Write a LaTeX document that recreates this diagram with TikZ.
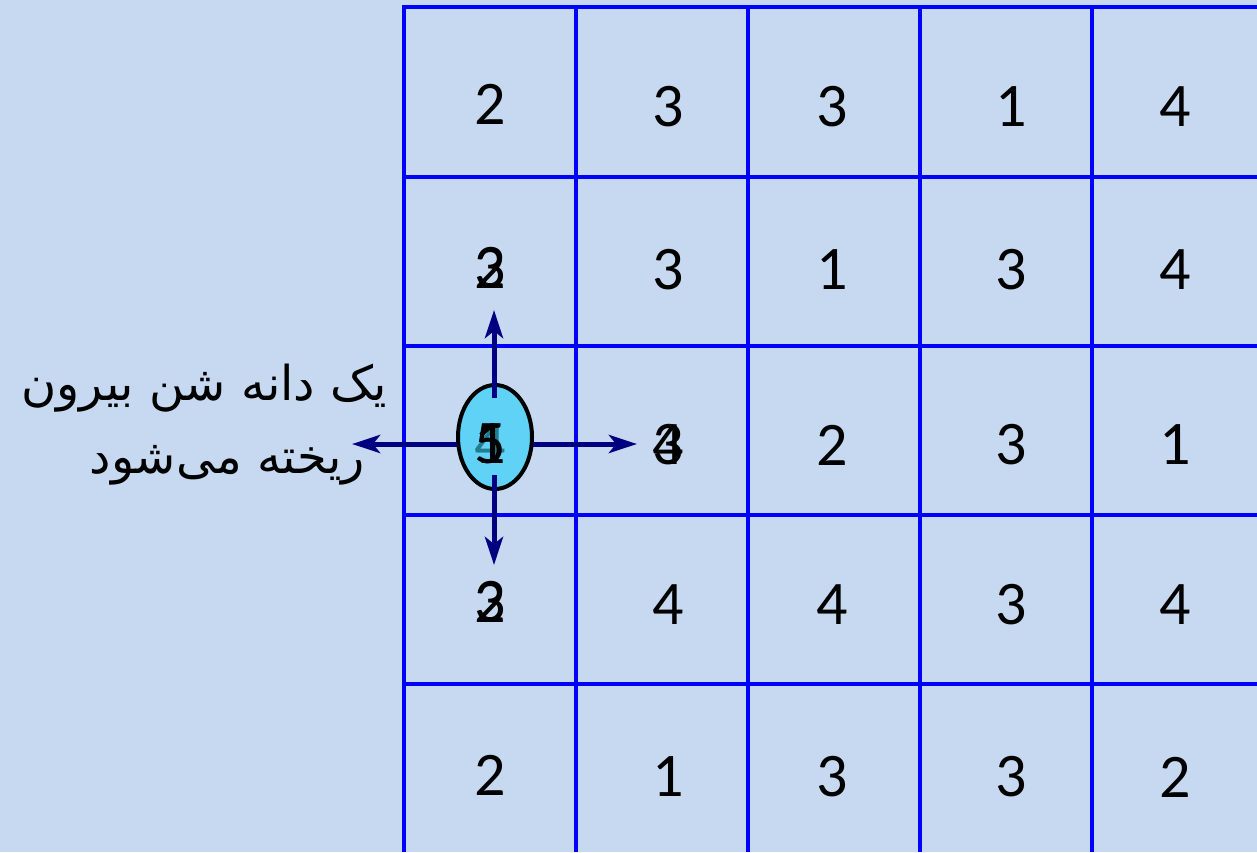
\documentclass[tikz,border=0pt]{standalone}
\usepackage{fontspec}
\newfontfamily\digitfont{Carlito}
\newfontfamily\persianfont[Script=Arabic]{DejaVu Sans}
\TeXXeTstate=1
\usetikzlibrary{arrows.meta, shapes.geometric}
\definecolor{bgblue}{RGB}{198,217,240}
\definecolor{gridblue}{RGB}{0,0,255}
\definecolor{arrownavy}{RGB}{0,0,128}
\definecolor{graincyan}{RGB}{95,210,245}
\definecolor{grainteal}{RGB}{35,125,145}
\tikzset{
  gridline/.style = {draw=gridblue, line width=3.5pt},
  digit/.style = {inner sep=0pt, text=black, font=\digitfont\fontsize{62}{62}\selectfont},
  grain/.style = {
    ellipse, draw=black, line width=4pt, fill=graincyan,
    minimum width=74pt, minimum height=104pt, inner sep=0pt
  },
  note/.style = {inner sep=0pt, anchor=base east, font=\persianfont\fontsize{48}{56}\selectfont},
  myarrow/.style = {-{Stealth[length=28pt, width=18pt, inset=7pt]}, draw=arrownavy, line width=5pt}
}

\begin{document}
\begin{tikzpicture}[x=1pt, y=-1pt]
  \path[use as bounding box, fill=bgblue] (0,0) rectangle (1257,852);

  % Grid
  \draw[gridline] (1257,7) -- (404,7) -- (404,852);
  \draw[gridline] (576,7) -- (576,852);
  \draw[gridline] (748,7) -- (748,852);
  \draw[gridline] (920,7) -- (920,852);
  \draw[gridline] (1092,7) -- (1092,852);
  \draw[gridline] (404,177) -- (1257,177);
  \draw[gridline] (404,346) -- (1257,346);
  \draw[gridline] (404,515) -- (1257,515);
  \draw[gridline] (404,684) -- (1257,684);

  % Sand counts
  \node[digit] (a1) at (490,104) {2};
  \node[digit] (a2) at (668,107) {3};
  \node[digit] (a3) at (832,107) {3};
  \node[digit] (a4) at (1011,107) {1};
  \node[digit] (a5) at (1175,107) {4};

  \node[digit] (b1old) at (490,268) {2};
  \node[digit] (b1) at (490,268) {3};
  \node[digit] (b2) at (668,270) {3};
  \node[digit] (b3) at (832,270) {1};
  \node[digit] (b4) at (1011,270) {3};
  \node[digit] (b5) at (1175,270) {4};

  \node[digit] (c2old) at (668,445) {3};
  \node[digit] (c2) at (668,445) {4};
  \node[digit] (c3) at (832,445) {2};
  \node[digit] (c4) at (1011,445) {3};
  \node[digit] (c5) at (1175,445) {1};

  \node[digit] (d1old) at (490,602) {2};
  \node[digit] (d1) at (490,602) {3};
  \node[digit] (d2) at (668,605) {4};
  \node[digit] (d3) at (832,605) {4};
  \node[digit] (d4) at (1011,605) {3};
  \node[digit] (d5) at (1175,605) {4};

  \node[digit] (e1) at (490,775) {2};
  \node[digit] (e2) at (668,777) {1};
  \node[digit] (e3) at (832,777) {3};
  \node[digit] (e4) at (1011,777) {3};
  \node[digit] (e5) at (1175,777) {2};

  % Toppling cell
  \node[grain] (grain) at (495,437) {};
  \node[digit, text=grainteal] (c1mid) at (490,444) {4};
  \node[digit] (c1old) at (490,444) {5};
  \node[digit] (c1) at (490,444) {1};

  \coordinate (upfrom) at (494,398);
  \coordinate (upto) at (494,310);
  \coordinate (downfrom) at (494,475);
  \coordinate (downto) at (494,565);
  \coordinate (leftfrom) at (457,444);
  \coordinate (leftto) at (352,444);
  \coordinate (rightfrom) at (533,444);
  \coordinate (rightto) at (637,444);

  \draw[myarrow] (upfrom) -- (upto);
  \draw[myarrow] (downfrom) -- (downto);
  \draw[myarrow] (leftfrom) -- (leftto);
  \draw[myarrow] (rightfrom) -- (rightto);

  % Label
  \node[note] (line1) at (387,400) {\beginR یک دانه شن بیرون\endR};
  \node[note] (line2) at (365,473) {\beginR ریخته می‌شود\endR};
\end{tikzpicture}
\end{document}
